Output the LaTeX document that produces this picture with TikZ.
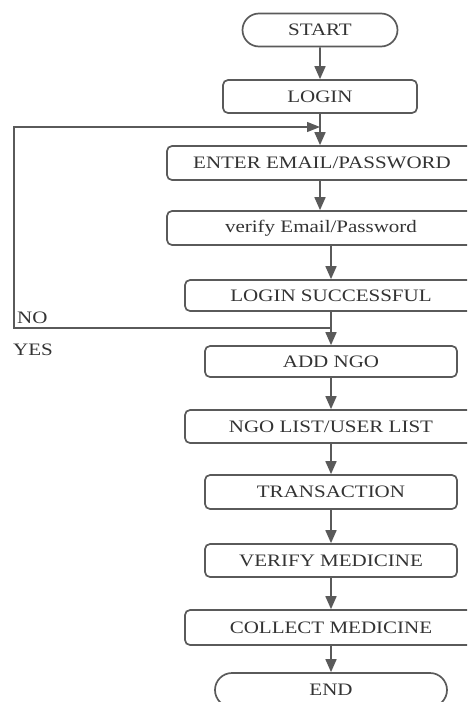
\documentclass[tikz,border=0pt]{standalone}
\usepackage{fontspec}
\setmainfont{Liberation Serif}[FakeStretch=1.2]
\usetikzlibrary{arrows.meta,shapes.misc}
\definecolor{flowline}{HTML}{5A5A5A}
\definecolor{flowtext}{HTML}{333333}

\begin{document}
\begin{tikzpicture}[x=1pt,y=-1pt,
  every node/.style={font=\fontsize{17.5}{20}\selectfont,text=flowtext},
  stepbox/.style n args={2}{rectangle,draw=flowline,line width=1.7pt,rounded corners=5pt,minimum width=#1pt,minimum height=#2pt,inner sep=0pt},
  terminal/.style n args={2}{rounded rectangle,draw=flowline,line width=1.7pt,minimum width=#1pt,minimum height=#2pt,inner sep=0pt},
  flow/.style={draw=flowline,line width=1.7pt,-{Triangle[width=11pt,length=13pt]}},
  loopline/.style={draw=flowline,line width=1.3pt,-{Triangle[width=10pt,length=13pt]}}]
\useasboundingbox (0,0) rectangle (467,702);
\clip (0,0) rectangle (467,702);

\node[terminal={155}{33}] (start) at (320,30) {START};
\node[stepbox={194}{33}] (login) at (320,96.5) {LOGIN};
\node[stepbox={310}{34}] (enter) at (322,163) {ENTER EMAIL/PASSWORD};
\node[stepbox={308}{34}] (verify) at (321,228) {verify Email/Password};
\node[stepbox={292}{31}] (success) at (331,295.5) {LOGIN SUCCESSFUL};
\node[stepbox={252}{31}] (addngo) at (331,361.5) {ADD NGO};
\node[stepbox={292}{33}] (lists) at (331,426.5) {NGO LIST/USER LIST};
\node[stepbox={252}{34}] (trans) at (331,492) {TRANSACTION};
\node[stepbox={252}{33}] (verimed) at (331,560.5) {VERIFY MEDICINE};
\node[stepbox={292}{35}] (collect) at (331,627.5) {COLLECT MEDICINE};
\node[terminal={232}{34}] (end) at (331,690) {END};

% yes / no branch
\node[anchor=base west,inner sep=0pt] (nolabel) at (17,323) {NO};
\node[anchor=base west,inner sep=0pt] (yeslabel) at (13,355) {YES};
\coordinate (nojoin) at (331,328);
\coordinate (noleft) at (14,328);
\coordinate (notop) at (14,127);
\coordinate (noend) at (320,127);

\draw[flow] (start) -- (login);
\draw[flow] (login) -- (login |- enter.north);
\draw[flow] (enter.south -| login) -- (login |- verify.north);
\draw[flow] (success.north |- verify.south) -- (success);
\draw[flow] (success) -- (addngo);
\draw[flow] (addngo) -- (lists);
\draw[flow] (lists) -- (trans);
\draw[flow] (trans) -- (verimed);
\draw[flow] (verimed) -- (collect);
\draw[flow] (collect) -- (end);
\draw[loopline] (nojoin) -- (noleft) -- (notop) -- (noend);
\end{tikzpicture}
\end{document}
